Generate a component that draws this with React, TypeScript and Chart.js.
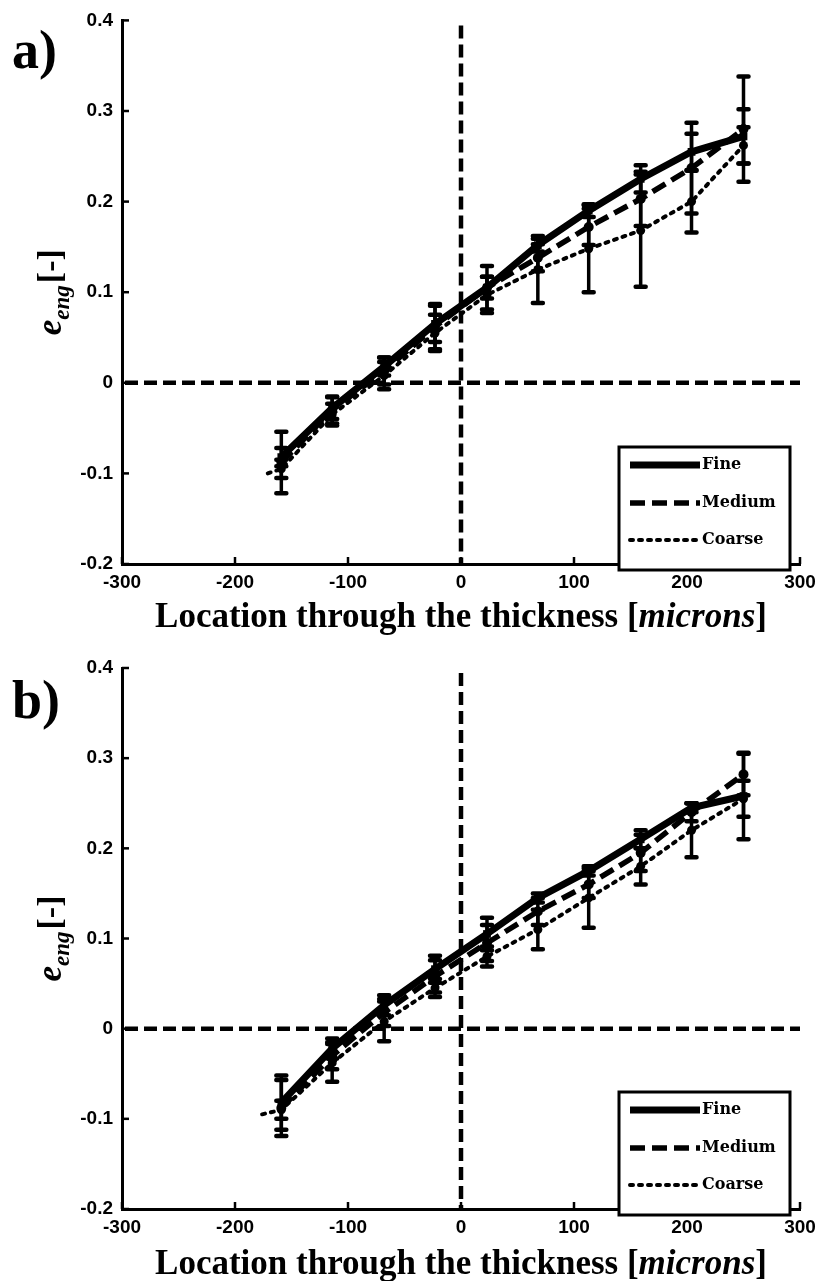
import React, { useEffect, useRef } from "react";
import { Chart, registerables } from "chart.js";

Chart.register(...registerables);

// ---------- data ----------
const xPositions = [-159, -114, -68, -23, 23, 68, 113, 159, 204, 250];
const coarseXPositionsA = [-171, -159, -114, -68, -23, 23, 68, 113, 159, 204, 250];
const coarseXPositionsB = [-176, -159, -114, -68, -23, 23, 68, 113, 159, 204, 250];

const fineA = [-0.082, -0.028, 0.018, 0.065, 0.105, 0.152, 0.19, 0.225, 0.255, 0.272];
const fineErrA = [0.01, 0.012, 0.01, 0.02, 0.012, 0.007, 0.007, 0.015, 0.02, 0.03];
const mediumA = [-0.088, -0.03, 0.013, 0.062, 0.105, 0.138, 0.172, 0.203, 0.237, 0.28];
const mediumErrA = [0.034, 0.015, 0.015, 0.025, 0.024, 0.015, 0.02, 0.03, 0.05, 0.058];
const coarseA = [-0.1, -0.095, -0.035, 0.008, 0.055, 0.097, 0.125, 0.148, 0.168, 0.2, 0.262];
const coarseErrA = [0, 0.01, 0.012, 0.015, 0.02, 0.02, 0.037, 0.048, 0.062, 0.034, 0.02];

const fineB = [-0.082, -0.022, 0.026, 0.066, 0.105, 0.145, 0.175, 0.21, 0.245, 0.258];
const fineErrB = [0.03, 0.011, 0.011, 0.015, 0.018, 0.005, 0.005, 0.01, 0.005, 0.048];
const mediumB = [-0.088, -0.03, 0.018, 0.058, 0.095, 0.13, 0.16, 0.195, 0.24, 0.282];
const mediumErrB = [0.031, 0.015, 0.015, 0.018, 0.02, 0.015, 0.015, 0.02, 0.01, 0.023];
const coarseB = [-0.095, -0.09, -0.038, 0.008, 0.045, 0.08, 0.11, 0.145, 0.18, 0.22, 0.255];
const coarseErrB = [0, 0.01, 0.021, 0.022, 0.01, 0.011, 0.022, 0.033, 0.02, 0.03, 0.02];

const xTicks = [-300, -200, -100, 0, 100, 200, 300];
const yTicks = [-0.2, -0.1, 0, 0.1, 0.2, 0.3, 0.4];
const seriesLabels = ["Fine", "Medium", "Coarse"];
const panelLabels = ["a)", "b)"];
const xTitleParts = ["Location through the thickness [", "microns", "]"];
const yTitleParts = ["e", "eng", "[-]"];

// ---------- styling ----------
const SERIF = "'Liberation Serif', 'Times New Roman', serif";
const SANS = "'Liberation Sans', Arial, sans-serif";
const LEGEND_FONT = "'DejaVu Serif', serif";

const errorBarPlugin = {
  id: "errorBars",
  afterDatasetsDraw(chart: any) {
    const { ctx, scales } = chart;
    const xs = scales.x;
    const ys = scales.y;
    ctx.save();
    ctx.strokeStyle = "#000";
    chart.data.datasets.forEach((ds: any) => {
      if (!ds.errors) return;
      ds.data.forEach((p: any, i: number) => {
        const e = ds.errors[i];
        if (!e) return;
        const px = xs.getPixelForValue(p.x);
        const top = ys.getPixelForValue(p.y + e);
        const bot = ys.getPixelForValue(p.y - e);
        ctx.lineWidth = 3.5;
        ctx.lineCap = "butt";
        ctx.setLineDash([]);
        ctx.beginPath();
        ctx.moveTo(px, top);
        ctx.lineTo(px, bot);
        ctx.stroke();
        ctx.lineWidth = 4.5;
        ctx.lineCap = "round";
        ctx.beginPath();
        ctx.moveTo(px - 5, top);
        ctx.lineTo(px + 5, top);
        ctx.moveTo(px - 5, bot);
        ctx.lineTo(px + 5, bot);
        ctx.stroke();
      });
    });
    ctx.restore();
  },
};

const zeroLinePlugin = {
  id: "zeroLines",
  beforeDatasetsDraw(chart: any) {
    const { ctx, chartArea, scales } = chart;
    const x0 = scales.x.getPixelForValue(0);
    const y0 = scales.y.getPixelForValue(0);
    ctx.save();
    ctx.strokeStyle = "#000";
    ctx.lineWidth = 4.5;
    ctx.setLineDash([13, 6]);
    ctx.beginPath();
    ctx.moveTo(chartArea.left + 3, y0);
    ctx.lineTo(chartArea.right, y0);
    ctx.stroke();
    ctx.beginPath();
    ctx.moveTo(x0, chartArea.top + 5);
    ctx.lineTo(x0, chartArea.bottom);
    ctx.stroke();
    ctx.restore();
  },
};

const decorPlugin = {
  id: "decor",
  afterDraw(chart: any, _args: any, opts: any) {
    const { ctx, chartArea, scales } = chart;
    ctx.save();
    ctx.strokeStyle = "#000";
    ctx.fillStyle = "#000";
    ctx.setLineDash([]);
    // inward ticks
    ctx.lineWidth = 2.5;
    ctx.lineCap = "butt";
    yTicks.forEach((v) => {
      const py = scales.y.getPixelForValue(v);
      ctx.beginPath();
      ctx.moveTo(chartArea.left, py);
      ctx.lineTo(chartArea.left + 7, py);
      ctx.stroke();
    });
    xTicks.forEach((v) => {
      const px = scales.x.getPixelForValue(v);
      ctx.beginPath();
      ctx.moveTo(px, chartArea.bottom);
      ctx.lineTo(px, chartArea.bottom - 7);
      ctx.stroke();
    });

    // legend
    const bx = chartArea.right - 181;
    const by = chartArea.bottom - 117;
    const bw = 171;
    const bh = 123;
    ctx.fillStyle = "#fff";
    ctx.fillRect(bx, by, bw, bh);
    ctx.lineWidth = 3;
    ctx.strokeRect(bx, by, bw, bh);
    const rows = [18, 56, 93];
    chart.data.datasets.forEach((ds: any, i: number) => {
      const ry = by + rows[i];
      ctx.save();
      ctx.strokeStyle = "#000";
      ctx.lineWidth = ds.borderWidth;
      ctx.setLineDash(ds.borderDash || []);
      ctx.lineCap = ds.borderCapStyle || "butt";
      ctx.beginPath();
      ctx.moveTo(bx + 11, ry);
      ctx.lineTo(bx + 81, ry);
      ctx.stroke();
      ctx.restore();
      ctx.fillStyle = "#000";
      ctx.font = `bold 16px ${LEGEND_FONT}`;
      ctx.textAlign = "left";
      ctx.textBaseline = "middle";
      ctx.fillText(ds.label, bx + 83, ry);
    });

    // panel label
    ctx.fillStyle = "#000";
    ctx.textBaseline = "alphabetic";
    ctx.textAlign = "left";
    ctx.font = `bold 54px ${SERIF}`;
    ctx.fillText(opts.panel, 12, opts.panelBaseline);

    // x title
    const fonts = [`bold 35px ${SERIF}`, `italic bold 35px ${SERIF}`, `bold 35px ${SERIF}`];
    let total = 0;
    const widths = xTitleParts.map((t, i) => {
      ctx.font = fonts[i];
      const w = ctx.measureText(t).width;
      total += w;
      return w;
    });
    let cx = (chartArea.left + chartArea.right) / 2 - total / 2;
    const baseY = chartArea.bottom + opts.xTitleOffset;
    xTitleParts.forEach((t, i) => {
      ctx.font = fonts[i];
      ctx.fillText(t, cx, baseY);
      cx += widths[i];
    });

    // y title (rotated)
    const yFonts = [`italic bold 35px ${SERIF}`, `italic bold 23px ${SERIF}`, `bold 34px ${SERIF}`];
    const yShift = [0, 8, 0];
    let ytotal = 0;
    const yw = yTitleParts.map((t, i) => {
      ctx.font = yFonts[i];
      const w = ctx.measureText(t).width + (i === 2 ? 2 : 0);
      ytotal += w;
      return w;
    });
    ctx.save();
    ctx.translate(61, (chartArea.top + chartArea.bottom) / 2);
    ctx.rotate(-Math.PI / 2);
    let tx = -ytotal / 2;
    yTitleParts.forEach((t, i) => {
      ctx.font = yFonts[i];
      ctx.fillText(t, tx + (i === 2 ? 2 : 0), yShift[i]);
      tx += yw[i];
    });
    ctx.restore();

    ctx.restore();
  },
};

function makeConfig(
  fine: number[], fineErr: number[],
  medium: number[], mediumErr: number[],
  coarseX: number[], coarse: number[], coarseErr: number[],
  panel: string, topPad: number, xHeight: number, panelBaseline: number, xTitleOffset: number
): any {
  const toPts = (xsArr: number[], ysArr: number[]) => ysArr.map((v, i) => ({ x: xsArr[i], y: v }));
  return {
    type: "line",
    data: {
      datasets: [
        {
          label: seriesLabels[0],
          data: toPts(xPositions, fine),
          errors: fineErr,
          borderColor: "#000",
          backgroundColor: "#000",
          borderWidth: 7,
          pointStyle: "rect",
          pointRadius: 5.5,
          pointBorderWidth: 0,
          tension: 0,
        },
        {
          label: seriesLabels[1],
          data: toPts(xPositions, medium),
          errors: mediumErr,
          borderColor: "#000",
          backgroundColor: "#000",
          borderWidth: 5.5,
          borderDash: [15, 7],
          pointStyle: "circle",
          pointRadius: 5,
          pointBorderWidth: 0,
          tension: 0,
        },
        {
          label: seriesLabels[2],
          data: toPts(coarseX, coarse),
          errors: coarseErr,
          borderColor: "#000",
          backgroundColor: "#000",
          borderWidth: 4,
          borderDash: [3, 6],
          borderCapStyle: "round",
          pointStyle: "circle",
          pointRadius: coarseErr.map((e) => (e ? 4.5 : 0)),
          pointBorderWidth: 0,
          tension: 0,
        },
      ],
    },
    options: {
      responsive: false,
      animation: false,
      events: [],
      layout: { padding: { left: 0, top: topPad, right: 24, bottom: 0 } },
      plugins: {
        legend: { display: false },
        tooltip: { enabled: false },
        decor: { panel, panelBaseline, xTitleOffset },
      },
      scales: {
        x: {
          type: "linear",
          min: -300,
          max: 300,
          afterBuildTicks: (s: any) => { s.ticks = xTicks.map((v) => ({ value: v })); },
          afterFit: (s: any) => { s.height = xHeight; },
          grid: { display: false, drawTicks: false },
          border: { display: true, color: "#000", width: 3 },
          ticks: {
            padding: 7,
            color: "#000",
            autoSkip: false,
            maxRotation: 0,
            font: { family: SANS, size: 19, weight: "bold" },
            callback: (v: any) => String(v),
          },
        },
        y: {
          type: "linear",
          min: -0.2,
          max: 0.4,
          afterBuildTicks: (s: any) => { s.ticks = yTicks.map((v) => ({ value: v })); },
          afterFit: (s: any) => { s.width = 122; },
          grid: { display: false, drawTicks: false },
          border: { display: true, color: "#000", width: 3 },
          ticks: {
            padding: 9,
            color: "#000",
            autoSkip: false,
            font: { family: SANS, size: 19, weight: "bold" },
            callback: (v: any) => (Math.abs(v) < 1e-9 ? "0" : Number(v).toFixed(1)),
          },
        },
      },
    },
    plugins: [zeroLinePlugin, errorBarPlugin, decorPlugin],
  };
}

function Panel(props: { top: number; height: number; config: () => any }) {
  const ref = useRef<HTMLCanvasElement | null>(null);
  useEffect(() => {
    if (!ref.current) return;
    const chart = new Chart(ref.current, props.config());
    return () => chart.destroy();
  }, []);
  return (
    <div style={{ position: "absolute", left: 0, top: props.top, width: 824, height: props.height }}>
      <canvas ref={ref} width={824} height={props.height} style={{ display: "block" }} />
    </div>
  );
}

export default function App() {
  return (
    <div style={{ position: "absolute", left: 0, top: 0, width: 824, height: 1281, background: "#fff" }}>
      <Panel
        top={0}
        height={640}
        config={() =>
          makeConfig(fineA, fineErrA, mediumA, mediumErrA, coarseXPositionsA, coarseA, coarseErrA,
            panelLabels[0], 17, 76, 68, 63)
        }
      />
      <Panel
        top={645}
        height={636}
        config={() =>
          makeConfig(fineB, fineErrB, mediumB, mediumErrB, coarseXPositionsB, coarseB, coarseErrB,
            panelLabels[1], 23, 72, 73, 65)
        }
      />
    </div>
  );
}
